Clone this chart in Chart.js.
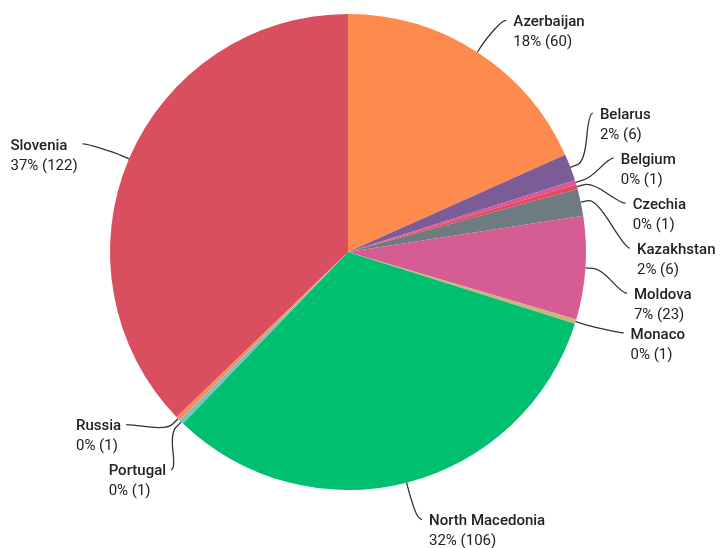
<!DOCTYPE html>
<html>
<head>
<meta charset="utf-8">
<script src="https://cdn.jsdelivr.net/npm/chart.js@4"></script>
<style>
  body { margin: 0; background: #fff; }
  #wrap { width: 721px; height: 548px; }
</style>
</head>
<body>
<div id="wrap"><canvas id="pie" width="721" height="548"></canvas></div>
<script>
const countries = ['Azerbaijan', 'Belarus', 'Belgium', 'Czechia', 'Kazakhstan', 'Moldova',
  'Monaco', 'North Macedonia', 'Portugal', 'Russia', 'Slovenia'];
const counts = [60, 6, 1, 1, 6, 23, 1, 106, 1, 1, 122];
const sliceColors = ['#fe8a4e', '#7b5c96', '#d9579a', '#e8475c', '#6e7b80', '#d65c94',
  '#c9b47e', '#00bf6f', '#6fc3c0', '#f4905c', '#da4f5f'];

const total = counts.reduce((a, b) => a + b, 0);

// draws the outside labels with curved leader lines
const outsideLabels = {
  id: 'outsideLabels',
  afterDraw(chart) {
    const ctx = chart.ctx;
    const arcs = chart.getDatasetMeta(0).data;
    const gap = 45;
    let cx, cy, R;
    const items = arcs.map((arc, i) => {
      const p = arc.getProps(['x', 'y', 'startAngle', 'endAngle', 'outerRadius'], true);
      cx = p.x; cy = p.y; R = p.outerRadius + 40;
      const mid = (p.startAngle + p.endAngle) / 2;
      const c = Math.cos(mid), s = Math.sin(mid);
      return {
        i, c, s,
        ax: p.x + c * p.outerRadius, ay: p.y + s * p.outerRadius,
        mx: p.x + c * (p.outerRadius + 15), my: p.y + s * (p.outerRadius + 15),
        ideal: p.y + s * (p.outerRadius + 38),
        rx: p.x + c * (p.outerRadius + 46),
        right: c >= 0
      };
    });

    [true, false].forEach(side => {
      const list = items.filter(d => d.right === side).sort((a, b) => a.ideal - b.ideal);
      // spread overlapping labels into clusters
      let clusters = list.map(d => ({ items: [d], top: d.ideal }));
      let changed = true;
      while (changed) {
        changed = false;
        for (let k = 1; k < clusters.length; k++) {
          const prev = clusters[k - 1];
          if (prev.top + prev.items.length * gap > clusters[k].top) {
            const all = prev.items.concat(clusters[k].items);
            const top = all.reduce((acc, d, j) => acc + d.ideal - j * gap, 0) / all.length;
            clusters.splice(k - 1, 2, { items: all, top });
            changed = true;
            break;
          }
        }
      }
      clusters.forEach(cl => {
        if (cl.items.length === 1) {
          const d = cl.items[0];
          d.ey = d.ideal;
          d.ex = d.rx;
          return;
        }
        // big right-hand cluster sits a little lower in the original
        const shift = cl.items.length > 3 ? 10 : 0;
        cl.items.forEach((d, j) => {
          d.ey = cl.top + j * gap + shift;
          const dy = Math.max(-R, Math.min(R, d.ey - cy));
          d.ex = cx + (side ? 1 : -1) * Math.sqrt(R * R - dy * dy);
        });
      });
    });

    ctx.save();
    items.forEach(d => {
      const dir = d.right ? 1 : -1;
      const tailX = d.ex + dir * 4;
      ctx.strokeStyle = '#333';
      ctx.lineWidth = 1.3;
      ctx.beginPath();
      ctx.moveTo(d.ax, d.ay);
      ctx.lineTo((d.ax + d.mx) / 2, (d.ay + d.my) / 2);
      ctx.quadraticCurveTo(d.mx, d.my, (d.mx + d.ex) / 2, (d.my + d.ey) / 2);
      ctx.quadraticCurveTo(d.ex, d.ey, tailX, d.ey);
      ctx.stroke();

      const name = countries[d.i];
      const val = Math.round(counts[d.i] / total * 100) + '% (' + counts[d.i] + ')';
      ctx.fillStyle = '#222';
      ctx.textBaseline = 'middle';
      ctx.textAlign = 'left';
      ctx.font = '500 15px Roboto';
      const w1 = ctx.measureText(name).width;
      ctx.font = '15px Roboto';
      const w2 = ctx.measureText(val).width;
      const tx = d.right ? tailX + 7 : tailX - 5 - Math.max(w1, w2);
      ctx.font = '500 15px Roboto';
      ctx.fillText(name, tx, d.ey + 2);
      ctx.font = '15px Roboto';
      ctx.fillText(val, tx, d.ey + 22);
    });
    ctx.restore();
  }
};

new Chart(document.getElementById('pie'), {
  type: 'pie',
  data: {
    labels: countries,
    datasets: [{
      data: counts,
      backgroundColor: sliceColors,
      borderWidth: 0
    }]
  },
  options: {
    responsive: false,
    animation: false,
    layout: { padding: { left: 110, right: 135, top: 14, bottom: 58 } },
    plugins: {
      legend: { display: false },
      tooltip: { enabled: false }
    }
  },
  plugins: [outsideLabels]
});
</script>
</body>
</html>
